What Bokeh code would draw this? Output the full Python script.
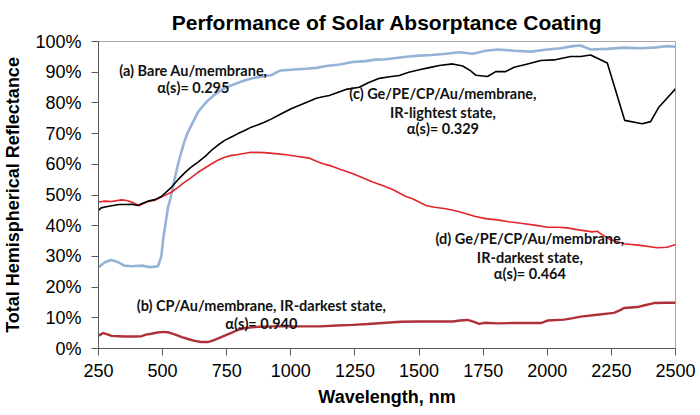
from bokeh.plotting import figure
from bokeh.models import FixedTicker, PrintfTickFormatter, Label, Range1d
from bokeh.embed import file_html
from bokeh.resources import INLINE

# ---- data (wavelength nm, reflectance %) ----
a_wl = [250, 275, 300, 325, 350, 380, 420, 450, 482, 495, 502, 512, 521, 531, 547, 560, 573, 585, 599,
        620, 638, 660, 677, 700, 716, 740, 768, 800, 820, 850, 872, 900, 923, 950, 962, 1001, 1060, 1100,
        1138, 1190, 1242, 1290, 1332, 1370, 1410, 1460, 1501, 1550, 1605, 1657, 1709, 1760, 1806, 1871,
        1936, 2001, 2052, 2100, 2130, 2169, 2234, 2299, 2364, 2429, 2468, 2500]
a_val = [26.5, 28.1, 28.8, 28.2, 27.0, 26.8, 27.0, 26.5, 26.8, 30, 35.5, 41, 46, 49, 55.3, 60, 64, 67.5, 70.5,
         74, 77, 79.3, 80.8, 82.5, 83.5, 84.8, 85.7, 86.7, 87.3, 88, 88.4, 88.8, 89, 90.2, 90.6, 90.8, 91.1, 91.4,
         92, 92.5, 93.3, 93.6, 94.1, 94.2, 94.6, 95.1, 95.4, 95.6, 96, 96.5, 96, 97, 97.4, 97,
         96.7, 97.4, 97.8, 98.5, 98.7, 97.4, 97.6, 98, 97.8, 98.1, 98.5, 98.3]

b_wl = [250, 268, 285, 301, 330, 352, 390, 418, 435, 456, 480, 502, 525, 547, 575, 599, 625, 651, 675, 690,
        715, 742, 770, 794, 820, 846, 880, 923, 1001, 1112, 1180, 1242, 1300, 1371, 1430, 1501, 1580, 1631,
        1660, 1689, 1715, 1734, 1760, 1806, 1871, 1936, 1975, 2001, 2066, 2100, 2130, 2195, 2260, 2285,
        2299, 2351, 2380, 2416, 2460, 2500]
b_val = [4.2, 5, 4.6, 4.1, 4.0, 3.9, 3.9, 4.0, 4.5, 4.8, 5.2, 5.4, 5.2, 4.6, 3.7, 3.1, 2.5, 2.1, 2.1, 2.4,
         3.2, 4.2, 5.2, 6.1, 6.6, 6.9, 7.1, 7.2, 7.2, 7.2, 7.5, 7.7, 8.0, 8.4, 8.7, 8.8, 8.8, 8.8,
         9.1, 9.3, 8.7, 8.0, 8.4, 8.2, 8.3, 8.3, 8.3, 9.1, 9.4, 9.9, 10.4, 11, 11.6, 12.5,
         13.2, 13.5, 14.1, 14.8, 14.9, 14.9]

c_wl = [250, 260, 280, 301, 330, 352, 380, 404, 420, 443, 470, 495, 534, 560, 586, 610, 638, 665, 690, 715,
        742, 770, 794, 820, 846, 870, 897, 925, 950, 980, 1001, 1034, 1065, 1099, 1125, 1150, 1185, 1215,
        1267, 1300, 1345, 1385, 1423, 1460, 1501, 1540, 1579, 1631, 1670, 1700, 1722, 1767, 1799, 1838,
        1871, 1923, 1975, 2026, 2091, 2130, 2169, 2234, 2302, 2370, 2403, 2435, 2500]
c_val = [45, 45.8, 46.2, 46.5, 46.9, 46.9, 47, 46.6, 47.2, 48, 48.5, 49.5, 52.5, 55, 57.2, 59, 60.7, 62.5, 64.5, 66.2,
         67.8, 69, 70, 71, 72.1, 72.8, 73.7, 74.8, 75.9, 77.2, 78.1, 79.2, 80.3, 81.5, 82, 82.4, 83.5, 84.4,
         85.1, 86.5, 88, 88.5, 88.9, 90, 90.8, 91.5, 92.2, 92.7, 92, 90.5, 89, 88.6, 90.2, 90.2,
         91.6, 92.7, 93.8, 94, 95.1, 95.1, 95.6, 93, 74.3, 73.2, 73.9, 78.6, 84.6]

d_wl = [250, 275, 301, 340, 360, 379, 408, 430, 443, 470, 495, 534, 560, 586, 610, 638, 665, 690, 715, 742,
        770, 794, 846, 897, 950, 982, 1021, 1073, 1100, 1125, 1160, 1189, 1242, 1280, 1319, 1360, 1397,
        1449, 1475, 1527, 1560, 1605, 1650, 1683, 1720, 1760, 1806, 1850, 1897, 1950, 2001, 2040, 2079,
        2110, 2143, 2175, 2195, 2215, 2245, 2299, 2364, 2429, 2468, 2500]
d_val = [47.7, 48, 47.9, 48.4, 48.2, 47.7, 46.6, 47.4, 47.9, 48.3, 49.3, 50.9, 52.5, 54.2, 55.6, 57.4, 58.8, 60.1, 61.3, 62.3,
         62.9, 63.2, 63.9, 63.8, 63.4, 63.1, 62.6, 62, 61, 60.2, 59.4, 58.5, 56.9, 55.6, 54.2, 53, 51.8,
         49.5, 48.8, 46.6, 46, 45.5, 44.7, 43.9, 43, 42.3, 41.9, 41.3, 40.8, 40.2, 39.5, 39.5, 39.3,
         38.8, 38.4, 38.0, 38.2, 37.0, 35.5, 34.1, 33.6, 32.8, 33, 33.9]

x_ticks = [250, 500, 750, 1000, 1250, 1500, 1750, 2000, 2250, 2500]
y_ticks = [0, 10, 20, 30, 40, 50, 60, 70, 80, 90, 100]

title = "Performance of Solar Absorptance Coating"
x_label = "Wavelength, nm"
y_label = "Total Hemispherical Reflectance"

annotations = [
    (620, 90.6, "(a) Bare Au/membrane,"),
    (620, 85.0, "α(s)= 0.295"),
    (1593, 83.0, "(c) Ge/PE/CP/Au/membrane,"),
    (1593, 77.0, "IR-lightest state,"),
    (1593, 71.6, "α(s)= 0.329"),
    (1932, 35.7, "(d) Ge/PE/CP/Au/membrane,"),
    (1932, 29.7, "IR-darkest state,"),
    (1932, 24.3, "α(s)= 0.464"),
    (885, 14.0, "(b) CP/Au/membrane, IR-darkest state,"),
    (885, 8.0, "α(s)= 0.940"),
]

p = figure(width=700, height=415, output_backend="svg", toolbar_location=None,
           x_range=Range1d(250, 2500), y_range=Range1d(0, 100),
           min_border_left=97, min_border_right=25, min_border_top=41, min_border_bottom=67)

p.title.text = title
p.title.align = "center"
p.title.text_font = "Liberation Sans"
p.title.text_font_size = "21px"
p.title.text_font_style = "bold"
p.title.text_color = "#000000"
p.title.standoff = 16

p.xgrid.visible = False
p.ygrid.visible = False
p.outline_line_color = "#a6a6a6"
p.outline_line_width = 1

for ax in (p.xaxis[0], p.yaxis[0]):
    ax.axis_line_color = "#595959"
    ax.major_tick_line_color = "#595959"
    ax.major_tick_out = 7
    ax.major_tick_in = 0
    ax.minor_tick_line_color = None
    ax.major_label_text_font = "Liberation Sans"
    ax.major_label_text_font_size = "18px"
    ax.major_label_text_color = "#000000"
    ax.axis_label_text_font = "Liberation Sans"
    ax.axis_label_text_font_size = "18px"
    ax.axis_label_text_font_style = "bold"
    ax.axis_label_text_color = "#000000"

p.xaxis[0].ticker = FixedTicker(ticks=x_ticks)
p.yaxis[0].ticker = FixedTicker(ticks=y_ticks)
p.yaxis[0].formatter = PrintfTickFormatter(format="%d%%")
p.xaxis[0].axis_label = x_label
p.yaxis[0].axis_label = y_label
p.xaxis[0].major_label_standoff = 8
p.yaxis[0].major_label_standoff = 10
p.xaxis[0].axis_label_standoff = 7
p.yaxis[0].axis_label_standoff = 9

p.line(a_wl, a_val, line_color="#95b3d7", line_width=2.6)
p.line(b_wl, b_val, line_color="#b0303a", line_width=2.4)
p.line(d_wl, d_val, line_color="#e3262b", line_width=1.6)
p.line(c_wl, c_val, line_color="#000000", line_width=1.6)

for x, y, t in annotations:
    p.add_layout(Label(x=x, y=y, text=t, text_align="center", text_baseline="middle",
                       text_font="Lato", text_font_style="bold", text_font_size="14.5px",
                       text_color="#111111"))

p.background_fill_color = "white"
p.border_fill_color = "white"

open("out.html", "w").write(file_html(p, INLINE))
